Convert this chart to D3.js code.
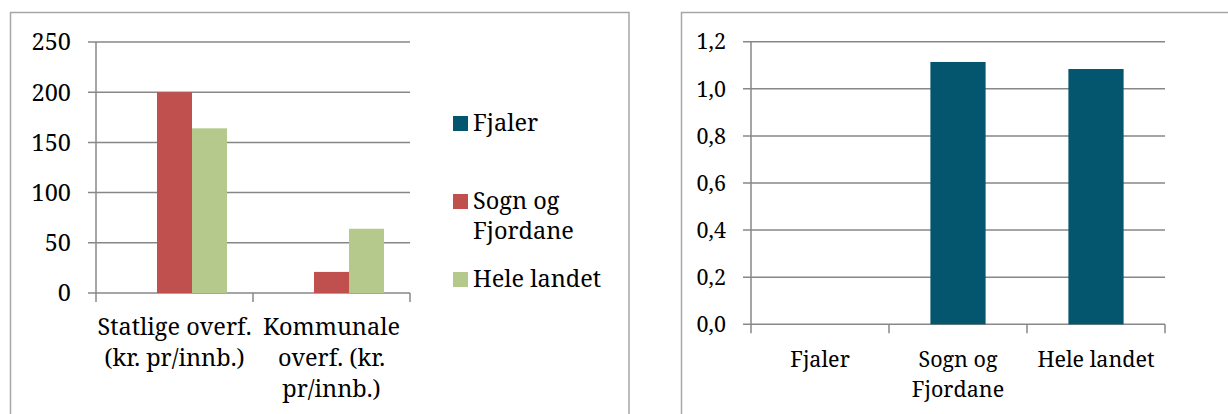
<!DOCTYPE html>
<html><head><meta charset="utf-8">
<script src="https://cdn.jsdelivr.net/npm/d3@7"></script>
<style>
html,body{margin:0;padding:0;background:#fff;}
svg{display:block;}
</style></head>
<body>
<svg id="c" width="1228" height="414"></svg>
<script>
// ---- data ----
const seriesNames = ["Fjaler", "Sogn og Fjordane", "Hele landet"];
const seriesColors = ["#04566E", "#C0504D", "#B4C98B"];
const leftCategories = ["Statlige overf.|(kr. pr/innb.)", "Kommunale|overf. (kr.|pr/innb.)"];
const leftFjaler = [0, 0];
const leftSogn = [200, 21];
const leftHele = [164, 64];
const leftTicks = [0, 50, 100, 150, 200, 250];
const leftTickLabels = ["0", "50", "100", "150", "200", "250"];
const legendLabels = ["Fjaler", "Sogn og|Fjordane", "Hele landet"];

const rightCategories = ["Fjaler", "Sogn og|Fjordane", "Hele landet"];
const rightValues = [0, 1.114, 1.084];
const rightTicks = [0, 0.2, 0.4, 0.6, 0.8, 1.0, 1.2];
const rightTickLabels = ["0,0", "0,2", "0,4", "0,6", "0,8", "1,0", "1,2"];

const FONT = "Noto Serif";
const svg = d3.select("#c");
const gridColor = "#878787";
const frameColor = "#A6A6A6";

function txt(sel) { return sel.append("text").attr("font-family", FONT).attr("fill", "#000"); }

// frames
svg.append("rect").attr("x", 10.5).attr("y", 12.5).attr("width", 618.5).attr("height", 420)
  .attr("fill", "none").attr("stroke", frameColor).attr("stroke-width", 1.5);
svg.append("rect").attr("x", 681.5).attr("y", 12.5).attr("width", 600).attr("height", 420)
  .attr("fill", "none").attr("stroke", frameColor).attr("stroke-width", 1.5);

function yAxis(g, y, w, ticks, labels, fs) {
  ticks.forEach((t, i) => {
    g.append("line").attr("x1", -8).attr("x2", w).attr("y1", y(t)).attr("y2", y(t))
      .attr("stroke", gridColor).attr("stroke-width", 1.5);
    txt(g).attr("x", -25).attr("y", y(t)).attr("dy", "0.36em")
      .attr("text-anchor", "end").attr("font-size", fs).text(labels[i]);
  });
}
function xAxisLine(g, x, y0, h, cats) {
  g.append("line").attr("x1", 0).attr("x2", 0).attr("y1", y0.range()[0]).attr("y2", y0.range()[1])
    .attr("stroke", gridColor).attr("stroke-width", 1.5);
  const r = x.range();
  const edges = cats.map(c => x(c)).concat([r[1]]);
  edges.forEach(e => {
    g.append("line").attr("x1", e).attr("x2", e).attr("y1", h).attr("y2", h + 9)
      .attr("stroke", gridColor).attr("stroke-width", 1.5);
  });
}
function catLabels(g, x, cats, baseY, lh, fs) {
  cats.forEach(c => {
    const lines = c.split("|");
    const t = txt(g).attr("text-anchor", "middle").attr("font-size", fs);
    lines.forEach((ln, i) => {
      t.append("tspan").attr("x", x(c) + x.bandwidth() / 2).attr("y", baseY + i * lh).text(ln);
    });
  });
}

// ---- left chart ----
{
  const ox = 96, oy = 42, w = 314, h = 251;
  const g = svg.append("g").attr("transform", `translate(${ox},${oy})`);
  const y = d3.scaleLinear().domain([0, 250]).range([h, 0]);
  const x0 = d3.scaleBand().domain(leftCategories).range([0, w]).padding(0);
  const x1 = d3.scaleBand().domain(seriesNames).range([0, x0.bandwidth()])
    .paddingInner(0).paddingOuter(0.743);
  const vals = [leftFjaler, leftSogn, leftHele];
  yAxis(g, y, w, leftTicks, leftTickLabels, 23.5);
  leftCategories.forEach((c, ci) => {
    seriesNames.forEach((s, si) => {
      const v = vals[si][ci];
      g.append("rect").attr("x", x0(c) + x1(s)).attr("y", y(v))
        .attr("width", x1.bandwidth()).attr("height", h - y(v)).attr("fill", seriesColors[si]);
    });
  });
  xAxisLine(g, x0, y, h, leftCategories);
  catLabels(g, x0, leftCategories, 335 - oy, 31, 23.5);

  // legend
  const lg = svg.append("g");
  const ly = [116, 194, 272];
  legendLabels.forEach((l, i) => {
    lg.append("rect").attr("x", 453).attr("y", ly[i]).attr("width", 15).attr("height", 15)
      .attr("fill", seriesColors[i]);
    const t = txt(lg).attr("font-size", 23.5);
    l.split("|").forEach((ln, j) => {
      t.append("tspan").attr("x", 473).attr("y", ly[i] + 15 + j * 30).text(ln);
    });
  });
}

// ---- right chart ----
{
  const ox = 751, oy = 41.7, w = 414, h = 282.6;
  const g = svg.append("g").attr("transform", `translate(${ox},${oy})`);
  const y = d3.scaleLinear().domain([0, 1.2]).range([h, 0]);
  const x = d3.scaleBand().domain(rightCategories).range([0, w]).padding(0);
  yAxis(g, y, w, rightTicks, rightTickLabels, 21.5);
  rightCategories.forEach((c, i) => {
    const bw = x.bandwidth() * 0.4;
    const v = rightValues[i];
    g.append("rect").attr("x", x(c) + (x.bandwidth() - bw) / 2).attr("y", y(v))
      .attr("width", bw).attr("height", h - y(v)).attr("fill", seriesColors[0]);
  });
  xAxisLine(g, x, y, h, rightCategories);
  catLabels(g, x, rightCategories, 367 - oy, 30, 21.5);
}
</script>
</body></html>
